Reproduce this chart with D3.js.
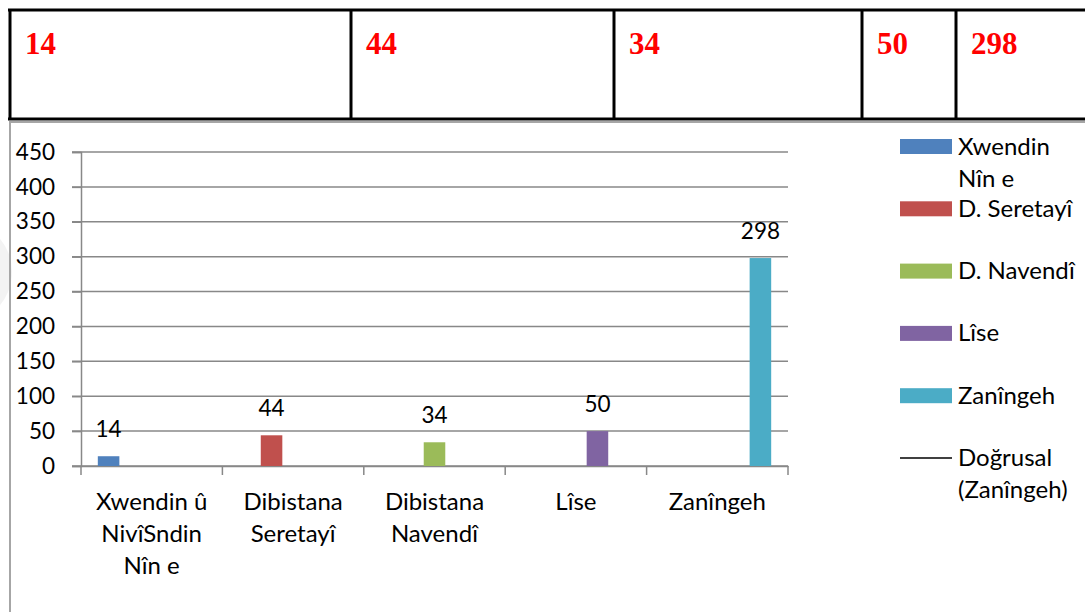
<!DOCTYPE html>
<html>
<head>
<meta charset="utf-8">
<script src="https://cdn.jsdelivr.net/npm/d3@7"></script>
<style>
body{margin:0;background:#fff;}
svg text{font-family:Lato,"Open Sans",sans-serif;}
</style>
</head>
<body>
<svg id="chart" width="1085" height="612"></svg>
<script>
// data
var categories = [["Xwendin û","NivîSndin","Nîn e"],["Dibistana","Seretayî"],["Dibistana","Navendî"],["Lîse"],["Zanîngeh"]];
var seriesNames = [["Xwendin","Nîn e"],["D. Seretayî"],["D. Navendî"],["Lîse"],["Zanîngeh"]];
var values = [14,44,34,50,298];
var seriesColors = ["#4f81bd","#c0504d","#9bbb59","#8064a2","#4bacc6"];
var yTicks = [0,50,100,150,200,250,300,350,400,450];
var trendName = ["Doğrusal","(Zanîngeh)"];

var fontSize = 24, numSize = 22.5;
var svg = d3.select("#chart");

// faint mark on the left edge
svg.append("circle").attr("cx",-40).attr("cy",272).attr("r",52).attr("fill","#f3f3f3");

// table on top
var colEdges = [10,351,614,862,956,1100];
var tbl = svg.append("g");
tbl.append("line").attr("x1",8).attr("x2",1085).attr("y1",10).attr("y2",10).attr("stroke","#000").attr("stroke-width",3);
tbl.append("line").attr("x1",8).attr("x2",1085).attr("y1",119).attr("y2",119).attr("stroke","#000").attr("stroke-width",3);
tbl.selectAll("line.col").data(colEdges.slice(0,5)).enter().append("line").attr("class","col")
  .attr("x1",d=>d).attr("x2",d=>d).attr("y1",9).attr("y2",120).attr("stroke","#000").attr("stroke-width",3);
tbl.selectAll("text").data(values).enter().append("text").text(d=>d)
  .attr("x",(d,i)=>colEdges[i]+15).attr("y",54)
  .attr("fill","#ff0000").attr("font-weight","bold").attr("font-size","31px")
  .style("font-family","'Liberation Serif','Times New Roman',serif");

// chart area border
svg.append("line").attr("x1",10).attr("x2",1085).attr("y1",122).attr("y2",122).attr("stroke","#a6a6a6").attr("stroke-width",2);
svg.append("line").attr("x1",10).attr("x2",10).attr("y1",121).attr("y2",612).attr("stroke","#a6a6a6").attr("stroke-width",2);

// scales
var x0 = d3.scaleBand().domain(d3.range(categories.length)).range([81,788]).padding(0);
var x1 = d3.scaleBand().domain(d3.range(seriesNames.length)).range([0,x0.bandwidth()]).paddingInner(0).paddingOuter(0.78);
var y = d3.scaleLinear().domain([0,450]).range([466,152]);

var gridColor = "#888888";
// gridlines
svg.append("g").selectAll("line").data(yTicks).enter().append("line")
  .attr("x1",72).attr("x2",788).attr("y1",d=>y(d)).attr("y2",d=>y(d))
  .attr("stroke",gridColor).attr("stroke-width",1.5);

// y axis
var yAxis = svg.append("g").attr("transform","translate(81,0)")
  .call(d3.axisLeft(y).tickValues(yTicks).tickSize(9).tickPadding(17));
yAxis.select(".domain").attr("stroke",gridColor).attr("stroke-width",1.5);
yAxis.selectAll(".tick line").attr("stroke",gridColor).attr("stroke-width",1.5);
yAxis.selectAll(".tick text").attr("fill","#000").attr("font-size",numSize+"px").style("font-family","Lato,sans-serif");

// x axis
var xAxis = svg.append("g").attr("transform","translate(0,466)")
  .call(d3.axisBottom(x0).tickValues([]).tickSizeOuter(0));
xAxis.select(".domain").attr("stroke",gridColor).attr("stroke-width",1.5);
var tickPos = d3.range(categories.length+1).map(i=>i<categories.length ? x0(i) : x0(categories.length-1)+x0.bandwidth());
xAxis.selectAll("line.tk").data(tickPos).enter().append("line").attr("class","tk")
  .attr("x1",d=>d).attr("x2",d=>d).attr("y1",0).attr("y2",9).attr("stroke",gridColor).attr("stroke-width",1.5);

// category labels
var catG = svg.append("g").selectAll("text").data(categories).enter().append("text")
  .attr("text-anchor","middle").attr("font-size",fontSize+"px").attr("fill","#000");
catG.selectAll("tspan").data((d,i)=>d.map(s=>({s:s,i:i}))).enter().append("tspan")
  .attr("x",d=>x0(d.i)+x0.bandwidth()/2).attr("y",(d,j)=>510+j*32).text(d=>d.s);

// bars (each category carries one series)
svg.append("g").selectAll("rect").data(values).enter().append("rect")
  .attr("x",(d,i)=>x0(i)+x1(i)).attr("width",x1.bandwidth())
  .attr("y",d=>y(d)).attr("height",d=>y(0)-y(d))
  .attr("fill",(d,i)=>seriesColors[i]);

// data labels
svg.append("g").selectAll("text").data(values).enter().append("text").text(d=>d)
  .attr("x",(d,i)=>x0(i)+x1(i)+x1.bandwidth()/2).attr("y",d=>y(d)-19)
  .attr("text-anchor","middle").attr("font-size",numSize+"px").attr("fill","#000");

// legend
var legStep = 62.3, legTop = 146.5;
var leg = svg.append("g");
var items = leg.selectAll("g").data(seriesNames.concat([trendName])).enter().append("g")
  .attr("transform",(d,i)=>"translate(900,"+(legTop+i*legStep)+")");
items.each(function(d,i){
  var g = d3.select(this);
  if(i<seriesNames.length){
    g.append("rect").attr("x",0).attr("y",-7.5).attr("width",52).attr("height",15).attr("fill",seriesColors[i]);
  } else {
    g.append("line").attr("x1",0).attr("x2",52).attr("y1",0).attr("y2",0).attr("stroke","#000").attr("stroke-width",1.5);
  }
  var t = g.append("text").attr("font-size",fontSize+"px").attr("fill","#000");
  t.selectAll("tspan").data(d).enter().append("tspan").attr("x",58).attr("y",(s,j)=>8+j*32).text(s=>s);
});
</script>
</body>
</html>
